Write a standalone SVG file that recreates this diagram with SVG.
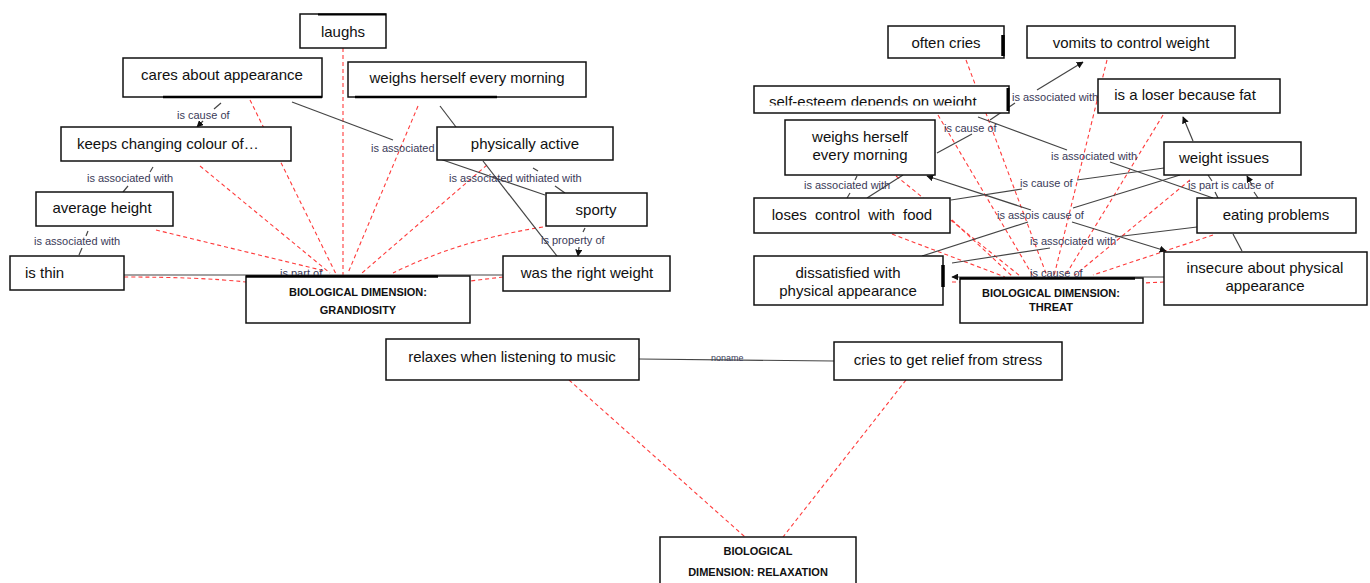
<svg xmlns="http://www.w3.org/2000/svg" width="1370" height="583" viewBox="0 0 1370 583">
<style>
.n{fill:#fff;stroke:#111;stroke-width:1.5}
.t{font-family:"Liberation Sans",Arial,sans-serif;font-size:15px;fill:#111;text-anchor:middle}
.b{font-family:"Liberation Sans",Arial,sans-serif;font-size:11px;font-weight:bold;fill:#111;text-anchor:middle}
.l{font-family:"Liberation Sans",Arial,sans-serif;font-size:11px;fill:#3a3a58}
.s{stroke:#444;stroke-width:1.2;fill:none}
.r{stroke:#ff3b3b;stroke-width:1.1;stroke-dasharray:4 3;fill:none}
.k{stroke:#000;stroke-width:3.5;fill:none}
</style>
<defs>
<marker id="a" viewBox="0 0 10 10" refX="9" refY="5" markerWidth="7" markerHeight="7" orient="auto" markerUnits="userSpaceOnUse"><path d="M0,0 L10,5 L0,10 z" fill="#111"/></marker>
<clipPath id="se"><rect x="754" y="86" width="256" height="19.5"/></clipPath>
</defs>
<rect width="1370" height="583" fill="#fff"/>
<g id="connectors">
<!-- red dashed: grandiosity -->
<path class="r" d="M343,48 L343,275"/>
<path class="r" d="M250,100 L336,274"/>
<path class="r" d="M200,166 L330,273"/>
<path class="r" d="M156,230 L325,271"/>
<path class="r" d="M124,277 Q200,277 246,282"/>
<path class="r" d="M418,106 L348,273"/>
<path class="r" d="M487,165 L362,273"/>
<path class="r" d="M543,227 Q460,240 393,273"/>
<path class="r" d="M503,277 L470,281"/>
<!-- red dashed: threat -->
<path class="r" d="M966,60 L1047,276"/>
<path class="r" d="M1107,60 L1054,276"/>
<path class="r" d="M1163,115 L1065,276"/>
<path class="r" d="M938,115 L1033,276"/>
<path class="r" d="M896,176 L1020,276"/>
<path class="r" d="M952,220 L1012,276"/>
<path class="r" d="M892,234 L1005,277"/>
<path class="r" d="M952,282 L960,282"/>
<path class="r" d="M1190,180 L1075,275"/>
<path class="r" d="M1213,235 L1093,275"/>
<path class="r" d="M1164,282 L1143,283"/>
<!-- red dashed: relaxation -->
<path class="r" d="M569,380 L745,537"/>
<path class="r" d="M906,380 L783,537"/>
<!-- solid: left -->
<path class="s" d="M221,103 L214,109"/>
<path class="s" d="M203,121 L197,127" marker-end="url(#a)"/>
<path class="s" d="M153,167 L150,172"/>
<path class="s" d="M128,186 L123,192"/>
<path class="s" d="M88,231 L86,236"/>
<path class="s" d="M82,248 L79,255"/>
<path class="s" d="M292,102 L393,140"/>
<path class="s" d="M437,158 L545,195"/>
<path class="s" d="M440,106 L456,127"/>
<path class="s" d="M483,161 L557,256"/>
<path class="s" d="M533,168 L538,171"/>
<path class="s" d="M555,186 L565,193"/>
<path class="s" d="M585,228 L583,232"/>
<path class="s" d="M579,247 L578,256" marker-end="url(#a)"/>
<path class="s" d="M124,275 L503,275"/>
<!-- solid: right -->
<path class="s" d="M937,153 L972,134"/>
<path class="s" d="M990,120 L1015,103"/>
<path class="s" d="M1037,90 L1083,62" marker-end="url(#a)"/>
<path class="s" d="M978,117 L1067,150"/>
<path class="s" d="M1110,162 L1213,198"/>
<path class="s" d="M951,200 L1022,189"/>
<path class="s" d="M1077,180 L1164,168"/>
<path class="s" d="M1031,210 L927,176" marker-end="url(#a)"/>
<path class="s" d="M1073,208 L1180,175"/>
<path class="s" d="M1028,222 L922,256"/>
<path class="s" d="M1072,222 L1166,251" marker-end="url(#a)"/>
<path class="s" d="M952,263 L1050,248"/>
<path class="s" d="M1115,237 L1197,227"/>
<path class="s" d="M1164,277 L952,277" marker-end="url(#a)"/>
<path class="s" d="M1208,175 L1212,181"/>
<path class="s" d="M1215,192 L1218,198"/>
<path class="s" d="M1252,185 L1247,176" marker-end="url(#a)"/>
<path class="s" d="M1254,192 L1258,198"/>
<path class="s" d="M1193,141 L1183,117" marker-end="url(#a)"/>
<path class="s" d="M857,176 L855,180"/>
<path class="s" d="M850,193 L847,198"/>
<path class="s" d="M903,175 L867,198"/>
<path class="s" d="M1233,234 L1242,251"/>
<!-- solid: bottom -->
<path class="s" d="M639,359 L834,361"/>
<!-- labels -->
<text class="l" x="177" y="119">is cause of</text>
<text class="l" x="87" y="182">is associated with</text>
<text class="l" x="34" y="245">is associated with</text>
<text class="l" x="280" y="277">is part of</text>
<text class="l" x="371" y="152">is associated</text>
<text class="l" x="449" y="182">is associated withiated with</text>
<text class="l" x="541" y="244">is property of</text>
<text class="l" x="1012" y="101">is associated with</text>
<text class="l" x="944" y="132">is cause of</text>
<text class="l" x="1051" y="160">is associated with</text>
<text class="l" x="804" y="189">is associated with</text>
<text class="l" x="1020" y="187">is cause of</text>
<text class="l" x="1188" y="189">is part is cause of</text>
<text class="l" x="997" y="219">is assois cause of</text>
<text class="l" x="1030" y="245">is associated with</text>
<text class="l" x="1030" y="277">is cause of</text>
<text class="l" x="711" y="361" style="font-size:9px">noname</text>
</g>
<g id="laughs"><rect class="n" x="300" y="14" width="86" height="34"/><path class="k" d="M318,14.5 L386,14.5" style="stroke-width:2"/><text class="t" x="343" y="37">laughs</text></g>
<g id="cares"><rect class="n" x="123" y="58" width="199" height="39"/><path class="k" d="M163,97 L322,97" style="stroke-width:2.5"/><text class="t" x="222" y="80">cares about appearance</text></g>
<g id="weighs-left"><rect class="n" x="348" y="62" width="238" height="35"/><path class="k" d="M355,97 L497,97" style="stroke-width:2.5"/><text class="t" x="467" y="83">weighs herself every morning</text></g>
<g id="keeps"><rect class="n" x="61" y="127" width="230" height="34"/><text class="t" x="77" y="149" style="text-anchor:start">keeps changing colour of…</text></g>
<g id="physically"><rect class="n" x="437" y="127" width="176" height="33"/><text class="t" x="525" y="149">physically active</text></g>
<g id="average"><rect class="n" x="36" y="192" width="137" height="34"/><text class="t" x="102" y="213">average height</text></g>
<g id="sporty"><rect class="n" x="546" y="193" width="101" height="33"/><text class="t" x="596" y="215">sporty</text></g>
<g id="thin"><rect class="n" x="10" y="256" width="114" height="34"/><text class="t" x="25" y="278" style="text-anchor:start">is thin</text></g>
<g id="rightweight"><rect class="n" x="503" y="256" width="167" height="35"/><text class="t" x="587" y="278">was the right weight</text></g>
<g id="grandiosity"><rect class="n" x="246" y="276" width="224" height="47"/><path class="k" d="M246,276.5 L438,276.5" style="stroke-width:2.5"/><text class="b" x="358" y="296">BIOLOGICAL DIMENSION:</text><text class="b" x="358" y="314">GRANDIOSITY</text></g>
<g id="oftencries"><rect class="n" x="888" y="26" width="116" height="32"/><path class="k" d="M1003,35 L1003,56"/><text class="t" x="946" y="48">often cries</text></g>
<g id="vomits"><rect class="n" x="1027" y="26" width="208" height="32"/><text class="t" x="1131" y="48">vomits to control weight</text></g>
<g id="selfesteem"><rect class="n" x="754" y="86" width="255" height="27"/><path class="k" d="M1008,88 L1008,111" style="stroke-width:3"/><text class="t" x="769" y="107" style="text-anchor:start" clip-path="url(#se)">self-esteem depends on weight</text></g>
<g id="loser"><rect class="n" x="1098" y="79" width="182" height="34"/><text class="t" x="1185" y="100">is a loser because fat</text></g>
<g id="weighs-right"><rect class="n" x="785" y="120" width="150" height="55"/><text class="t" x="860" y="142">weighs herself</text><text class="t" x="860" y="160">every morning</text></g>
<g id="weightissues"><rect class="n" x="1164" y="142" width="137" height="33"/><text class="t" x="1224" y="163">weight issues</text></g>
<g id="losescontrol"><rect class="n" x="754" y="198" width="196" height="35"/><text class="t" x="852" y="220" xml:space="preserve" style="word-spacing:4px">loses control with food</text></g>
<g id="eating"><rect class="n" x="1197" y="198" width="159" height="35"/><text class="t" x="1276" y="220">eating problems</text></g>
<g id="dissatisfied"><rect class="n" x="754" y="256" width="189" height="49"/><path class="k" d="M943,265 L943,287"/><text class="t" x="848" y="278">dissatisfied with</text><text class="t" x="848" y="296">physical appearance</text></g>
<g id="threat"><rect class="n" x="960" y="278" width="183" height="45"/><path class="k" d="M960,278.5 L1135,278.5" style="stroke-width:2.5"/><text class="b" x="1051" y="297">BIOLOGICAL DIMENSION:</text><text class="b" x="1051" y="311">THREAT</text></g>
<g id="insecure"><rect class="n" x="1164" y="252" width="203" height="53"/><text class="t" x="1265" y="273">insecure about physical</text><text class="t" x="1265" y="291">appearance</text></g>
<g id="relaxes"><rect class="n" x="386" y="339" width="253" height="41"/><text class="t" x="512" y="362">relaxes when listening to music</text></g>
<g id="criesrelief"><rect class="n" x="834" y="342" width="228" height="38"/><text class="t" x="948" y="365">cries to get relief from stress</text></g>
<g id="relaxation"><rect class="n" x="660" y="537" width="196" height="52"/><text class="b" x="758" y="555">BIOLOGICAL</text><text class="b" x="758" y="576">DIMENSION: RELAXATION</text></g>
</svg>
